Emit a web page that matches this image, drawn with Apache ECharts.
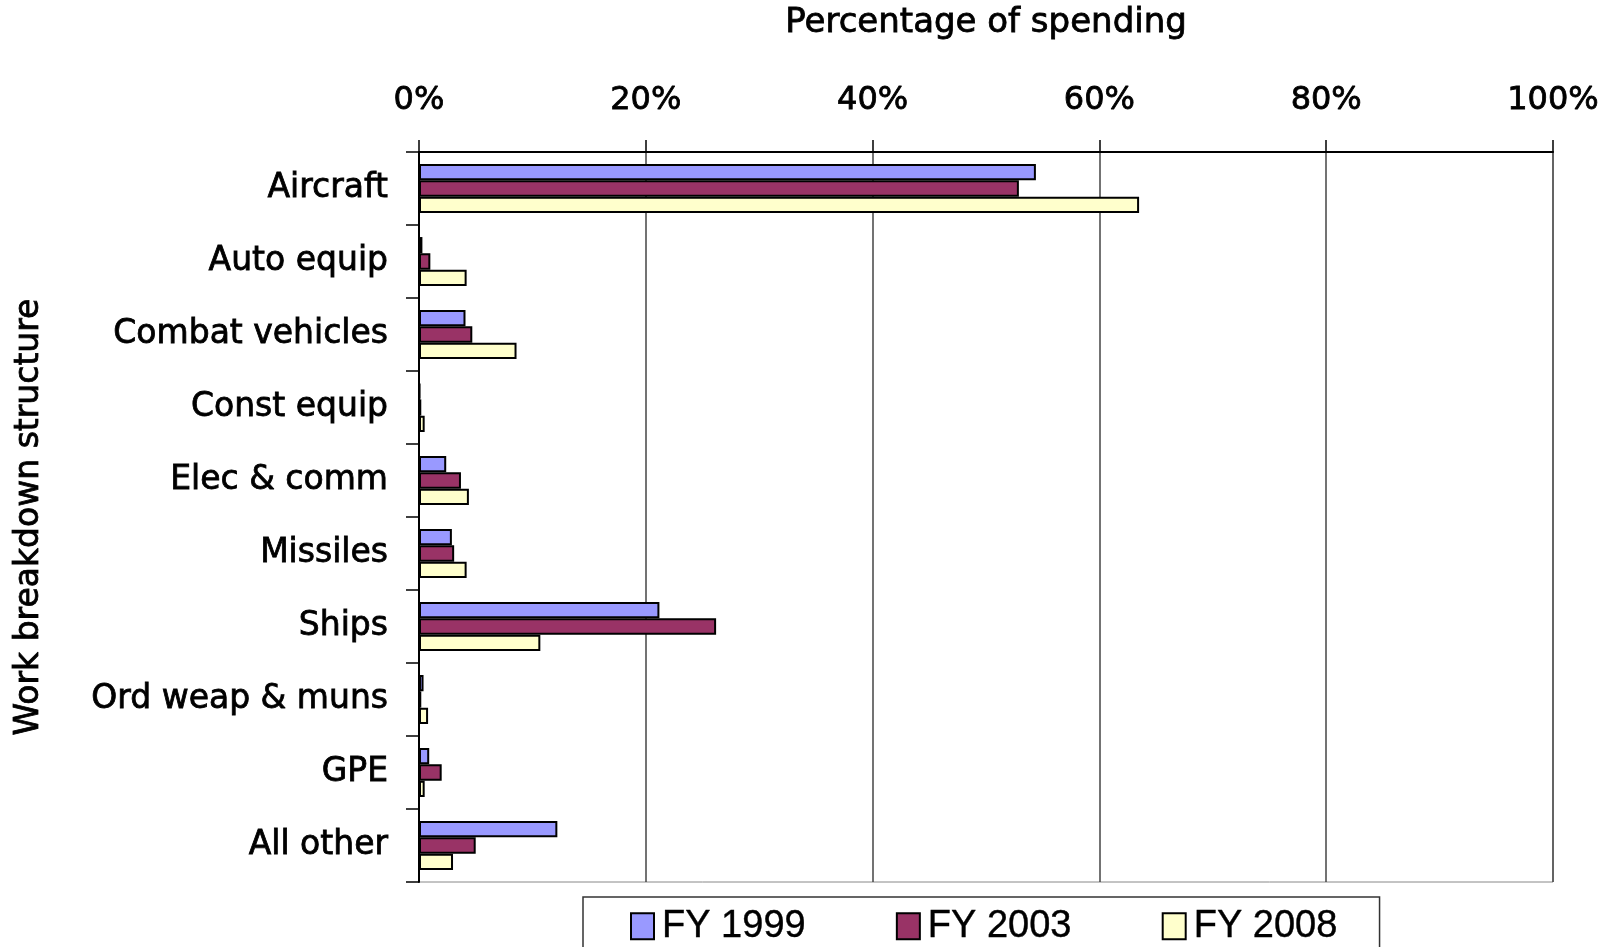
<!DOCTYPE html>
<html>
<head>
<meta charset="utf-8">
<title>Percentage of spending by work breakdown structure</title>
<script src="https://cdn.jsdelivr.net/npm/echarts@6/dist/echarts.min.js"></script>
<style>
  html, body { margin: 0; padding: 0; background: #fff; }
  #chart { width: 1619px; height: 947px; }
</style>
</head>
<body>
<div id="chart"></div>
<script>
// Work breakdown structure categories (top to bottom)
const categories = [
  'Aircraft', 'Auto equip', 'Combat vehicles', 'Const equip', 'Elec & comm',
  'Missiles', 'Ships', 'Ord weap & muns', 'GPE', 'All other'
];

// Share of spending, in percent
const fy1999 = [54.4, 0.3, 4.1, 0.1, 2.4, 2.9, 21.2, 0.4, 0.9, 12.2];
const fy2003 = [52.9, 1.0, 4.7, 0.2, 3.7, 3.1, 26.2, 0.2, 2.0, 5.0];
const fy2008 = [63.5, 4.2, 8.6, 0.5, 4.4, 4.2, 10.7, 0.8, 0.5, 3.0];

const seriesNames = ['FY 1999', 'FY 2003', 'FY 2008'];
const xTicks = [0, 20, 40, 60, 80, 100];

const chart = echarts.init(document.getElementById('chart'), null, { renderer: 'canvas' });

const font = 'DejaVu Sans';
// a thin outline gives the text a slightly heavier stroke
const heavy = { textBorderColor: '#000', textBorderWidth: 0.8 };
const barStyle = (color) => ({ color: color, borderColor: '#000', borderWidth: 2 });

chart.setOption({
  animation: false,
  backgroundColor: '#fff',
  grid: {
    left: 419, right: 66, top: 152, bottom: 65,
    outerBoundsMode: 'none',
    containLabel: false,
    show: true, borderColor: '#888', borderWidth: 1
  },
  legend: {
    data: seriesNames,
    left: 583,
    top: 897,
    padding: [10, 42, 10, 47],
    itemWidth: 23,
    itemHeight: 26,
    itemGap: 90,
    icon: 'rect',
    borderColor: '#333',
    borderWidth: 1.5,
    textStyle: { fontFamily: 'Liberation Sans', fontSize: 38, color: '#000', padding: [0, 0, 0, 3], textBorderColor: '#000', textBorderWidth: 0.4 }
  },
  xAxis: {
    type: 'value',
    position: 'top',
    min: 0, max: 100, interval: 20,
    name: 'Percentage of spending',
    nameLocation: 'middle',
    nameGap: 112,
    nameTextStyle: Object.assign({ fontFamily: font, fontSize: 34, color: '#000' }, heavy),
    axisLine: { show: true, lineStyle: { color: '#000', width: 2 } },
    axisTick: { show: true, length: 12, lineStyle: { color: '#000', width: 1.5 } },
    axisLabel: Object.assign({
      fontFamily: font, fontSize: 32, color: '#000', margin: 35,
      formatter: (v) => xTicks.includes(v) ? v + '%' : ''
    }, heavy),
    splitLine: { show: true, lineStyle: { color: '#444', width: 1.5 } }
  },
  yAxis: {
    type: 'category',
    inverse: true,
    data: categories,
    name: 'Work breakdown structure',
    nameLocation: 'middle',
    nameGap: 373,
    nameRotate: 90,
    nameTextStyle: Object.assign({ fontFamily: font, fontSize: 33, color: '#000' }, heavy),
    axisLine: { show: true, lineStyle: { color: '#000', width: 2 } },
    axisTick: { show: true, length: 13, lineStyle: { color: '#000', width: 1.5 } },
    axisLabel: Object.assign({ fontFamily: font, fontSize: 33, color: '#000', margin: 31, padding: [6, 0, 0, 0] }, heavy),
    splitLine: { show: false }
  },
  series: [
    { name: seriesNames[0], type: 'bar', data: fy1999, barGap: '0%', barCategoryGap: '33%', itemStyle: barStyle('#9999FF') },
    { name: seriesNames[1], type: 'bar', data: fy2003, barGap: '0%', barCategoryGap: '33%', itemStyle: barStyle('#993366') },
    { name: seriesNames[2], type: 'bar', data: fy2008, barGap: '0%', barCategoryGap: '33%', itemStyle: barStyle('#FFFFCC') }
  ]
});
</script>
</body>
</html>
